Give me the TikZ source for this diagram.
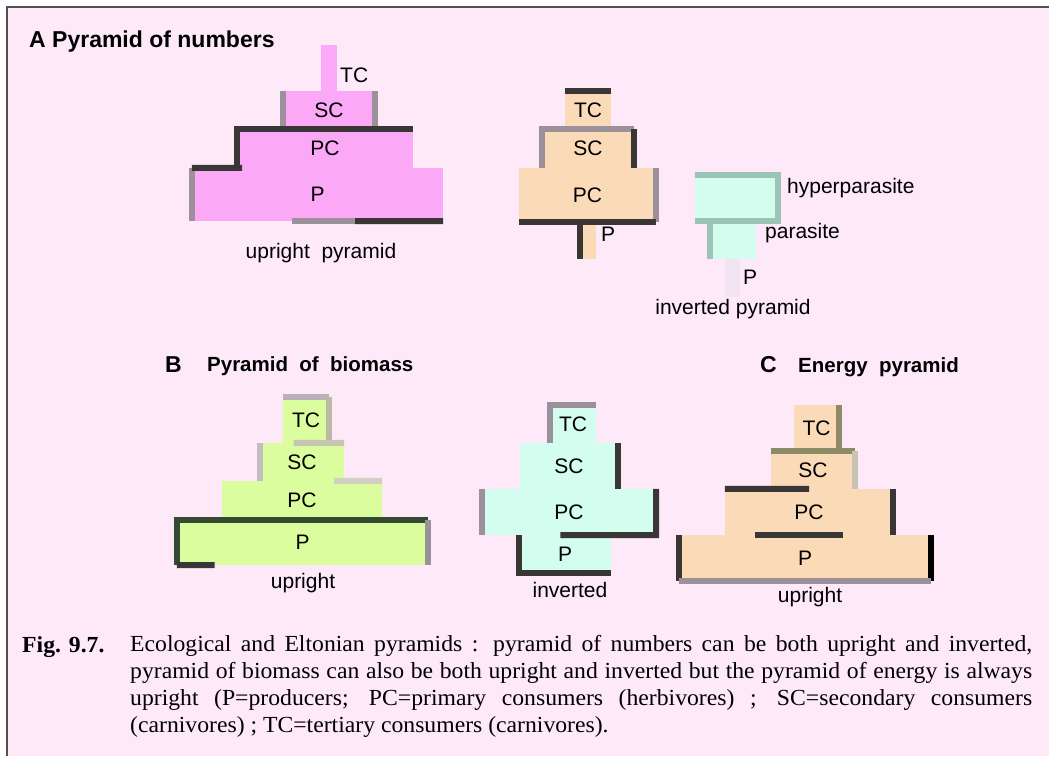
\documentclass[tikz,border=0pt]{standalone}
\usepackage{fontspec}
\setmainfont{Liberation Serif}
\setsansfont{Liberation Sans}
\newfontfamily\capfont{Liberation Serif}[FakeStretch=1.03]
\usetikzlibrary{positioning, calc}
\definecolor{PaperPink}{HTML}{FDE9F8}
\definecolor{FrameGray}{HTML}{505050}
\definecolor{NumPink}{HTML}{FBA9F6}
\definecolor{Peach}{HTML}{FBDAB7}
\definecolor{Mint}{HTML}{D3FDEF}
\definecolor{Lime}{HTML}{DCFD9D}
\definecolor{Ghost}{HTML}{F1E4F2}
\definecolor{RimDark}{HTML}{3A3636}
\definecolor{RimGray}{HTML}{9C909A}
\definecolor{RimGreen}{HTML}{9CC4B6}
\definecolor{RimOlive}{HTML}{8E8A68}

\begin{document}
\begin{tikzpicture}[x=1pt, y=-1pt,
  every node/.style={font=\sffamily\fontsize{21}{24}\selectfont, inner sep=0pt},
  tier/.style n args={3}{fill=#1, minimum width=#2pt, minimum height=#3pt},
  rim/.style={draw=#1, line width=6pt},
  rim/.default=RimDark,
  heading/.style={font=\sffamily\bfseries\fontsize{#1}{24}\selectfont, anchor=base west},
  capstyle/.style={font=\capfont\fontsize{23}{26.7}\selectfont}]
  \useasboundingbox (0,0) rectangle (1049,756);
  \fill[PaperPink] (7,7) rectangle (1049,756);
  \draw[FrameGray, line width=2pt] (7,756) -- (7,7) -- (1049,7);

  % A: pyramid of numbers
  \node[heading=23] (titleA) at (29,47) {A Pyramid of numbers};

  \node[tier={NumPink}{16}{46}] (numTC) at (329,68) {};
  \node[tier={NumPink}{92}{38}] (numSC) at (329,110) {SC};
  \node[tier={NumPink}{176}{39}] (numPC) at (325,148.5) {PC};
  \node[tier={NumPink}{251}{53}] (numP) at (317.5,194.5) {P};
  \node[anchor=west] (numTCtext) at (340,75) {TC};
  \draw[rim=RimGray] (numSC.south west) -- (numSC.north west);
  \draw[rim=RimGray] (numSC.north east) -- (numSC.south east);
  \draw[rim] (numPC.south west) -- (numPC.north west) -- (numPC.north east);
  \draw[rim=RimGray] (numP.south west) -- (numP.north west);
  \draw[rim] (numP.north west) -- ($(numP.north west)!0.2!(numP.north east)$);
  \draw[rim=RimGray] ($(numP.south west)!0.4!(numP.south east)$) -- ($(numP.south west)!0.65!(numP.south east)$);
  \draw[rim] ($(numP.south west)!0.65!(numP.south east)$) -- (numP.south east);
  \node (numUp) at (321,253) {upright~ pyramid};

  \node[tier={Peach}{46}{38}] (treeTC) at (588,110) {TC};
  \node[tier={Peach}{92}{39}] (treeSC) at (588,148.5) {SC};
  \node[tier={Peach}{137}{54}] (treePC) at (587.5,195) {PC};
  \node[tier={Peach}{16}{37}] (treeP) at (588,240.5) {};
  \node[anchor=west] (treePtext) at (601,234) {P};
  \draw[rim] (treeTC.north west) -- (treeTC.north east);
  \draw[rim=RimGray] (treeSC.south west) -- (treeSC.north west) -- (treeSC.north east);
  \draw[rim] (treeSC.north east) -- (treeSC.south east);
  \draw[rim=RimGray] (treePC.north east) -- (treePC.south east);
  \draw[rim] (treePC.south west) -- (treePC.south east);
  \draw[rim] (treeP.north west) -- (treeP.south west);

  \node[tier={Mint}{83}{46}] (paraH) at (736.5,198) {};
  \node[tier={Mint}{46}{38}] (paraPa) at (733,240) {};
  \node[tier={Ghost}{15}{38}] (paraP) at (732.5,278) {};
  \node[anchor=west] (paraHtext) at (787,188) {hyperparasite};
  \node[anchor=west] (paraPatext) at (765,233) {parasite};
  \node[anchor=west] (paraPtext) at (743,277) {P};
  \draw[rim=RimGreen] (paraH.north west) -- (paraH.north east) -- (paraH.south east) -- (paraH.south west);
  \draw[rim=RimGreen] (paraPa.north west) -- (paraPa.south west);
  \node (paraInv) at (733,309) {inverted pyramid};

  % B: pyramid of biomass
  \node[heading=23] (titleB) at (165,372) {B};
  \node[heading=20.5] (nameB) at (207,371) {Pyramid~ of~ biomass};

  \node[tier={Lime}{46}{46}] (bioTC) at (306,420) {TC};
  \node[tier={Lime}{84}{38}] (bioSC) at (302,462) {SC};
  \node[tier={Lime}{160}{39}] (bioPC) at (302,500.5) {PC};
  \node[tier={Lime}{251}{45}] (bioP) at (302.5,542.5) {P};
  \draw[rim=RimGray!70] (bioTC.north west) -- (bioTC.north east);
  \draw[rim=RimOlive!60] (bioTC.north east) -- (bioTC.south east);
  \draw[rim=RimGray!60] (bioSC.south west) -- (bioSC.north west);
  \draw[rim=RimOlive!50] ($(bioSC.north west)!0.4!(bioSC.north east)$) -- (bioSC.north east);
  \draw[rim=RimOlive!40] ($(bioPC.north west)!0.7!(bioPC.north east)$) -- (bioPC.north east);
  \draw[rim=RimDark!90!green] (bioP.south west) -- (bioP.north west) -- (bioP.north east);
  \draw[rim=RimGray] (bioP.north east) -- (bioP.south east);
  \draw[rim] (bioP.south west) -- ($(bioP.south west)!0.15!(bioP.south east)$);
  \node (bioUp) at (303,583) {upright};

  \node[tier={Mint}{46}{38}] (invTC) at (573,424) {TC};
  \node[tier={Mint}{98}{46}] (invSC) at (569,466) {SC};
  \node[tier={Mint}{174}{46}] (invPC) at (569,512) {PC};
  \node[tier={Mint}{92}{38}] (invP) at (565,554) {P};
  \draw[rim=RimGray] (invTC.south west) -- (invTC.north west) -- (invTC.north east);
  \draw[rim] (invSC.north east) -- (invSC.south east);
  \draw[rim=RimGray] (invPC.north west) -- (invPC.south west);
  \draw[rim] (invPC.north east) -- (invPC.south east) -- ($(invPC.south east)!0.55!(invPC.south west)$);
  \draw[rim] (invP.north west) -- (invP.south west) -- (invP.south east);
  \node (invDown) at (570,590) {inverted};

  % C: energy pyramid
  \node[heading=23] (titleC) at (760,372) {C};
  \node[heading=20.5] (nameC) at (798,372) {Energy~ pyramid};

  \node[tier={Peach}{45}{46}] (engTC) at (816.5,428) {TC};
  \node[tier={Peach}{84}{38}] (engSC) at (813,470) {SC};
  \node[tier={Peach}{168}{46}] (engPC) at (809,512) {PC};
  \node[tier={Peach}{252}{46}] (engP) at (805,558) {P};
  \draw[rim=RimOlive] (engTC.north east) -- (engTC.south east);
  \draw[rim=RimOlive] (engSC.north west) -- (engSC.north east);
  \draw[rim=RimOlive!50] (engSC.north east) -- (engSC.south east);
  \draw[rim] (engPC.north west) -- ($(engPC.north west)!0.5!(engPC.north east)$);
  \draw[rim] (engPC.north east) -- (engPC.south east);
  \draw[rim] ($(engP.north west)!0.3!(engP.north east)$) -- ($(engP.north west)!0.65!(engP.north east)$);
  \draw[rim=black] (engP.north east) -- (engP.south east);
  \draw[rim] (engP.north west) -- (engP.south west);
  \draw[rim=RimGray] (engP.south west) -- (engP.south east);
  \node (engUp) at (810,597) {upright};

  % caption
  \node[capstyle, anchor=base west, font=\capfont\bfseries\fontsize{23}{26.7}\selectfont] (figno) at (22,652) {Fig. 9.7.};
  \node[capstyle, anchor=north west, text width=902pt, align=justify] (caption) at (130,635.5)
    {Ecological and Eltonian pyramids : pyramid of numbers can be both upright and inverted,\linebreak
     pyramid of biomass can also be both upright and inverted but the pyramid of energy is always\linebreak
     upright (P=producers; PC=primary consumers (herbivores) ; SC=secondary consumers\linebreak
     (carnivores) ; TC=tertiary consumers (carnivores).};
\end{tikzpicture}
\end{document}
